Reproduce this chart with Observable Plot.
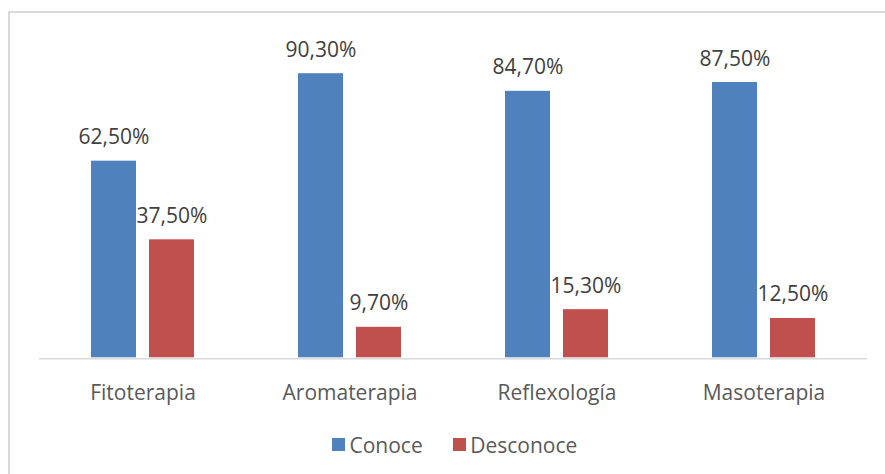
<!DOCTYPE html>
<html>
<head>
<meta charset="utf-8">
<script src="https://cdn.jsdelivr.net/npm/d3@7"></script>
<script src="https://cdn.jsdelivr.net/npm/@observablehq/plot@0.6"></script>
<style>
  html, body { margin: 0; padding: 0; background: #fff; width: 885px; height: 474px; overflow: hidden; }
  #frame { position: absolute; left: 8px; top: 11px; width: 900px; height: 500px;
           border-left: 2px solid #d9d9d9; border-top: 2px solid #d9d9d9; box-sizing: border-box; }
  #chart { position: absolute; left: 0; top: 0; }
  #legend { position: absolute; left: 332px; top: 428px; }
  #legend .lg-swatch { margin-right: 30px; }
  #legend .lg-swatch > svg { margin-right: 4.5px; }
  #legend .lg-swatches { margin: 0; }
</style>
</head>
<body>
<div id="frame"></div>
<div id="chart"></div>
<div id="legend"></div>
<script>
const categories = ["Fitoterapia", "Aromaterapia", "Reflexología", "Masoterapia"];
const series = ["Conoce", "Desconoce"];
const conoce = [62.5, 90.3, 84.7, 87.5];
const desconoce = [37.5, 9.7, 15.3, 12.5];
const colors = ["#4F81BD", "#C0504D"];

const data = [];
categories.forEach((c, i) => {
  data.push({cat: c, serie: series[0], value: conoce[i]});
  data.push({cat: c, serie: series[1], value: desconoce[i]});
});
const fmt = v => v.toFixed(2).replace(".", ",") + "%";

const chart = Plot.plot({
  width: 885,
  height: 410,
  marginLeft: 38,
  marginRight: 17,
  marginTop: 42.7,
  marginBottom: 52.7,
  style: {fontFamily: "'Open Sans', sans-serif", fontSize: "21px", background: "transparent"},
  fx: {domain: categories, padding: 0, label: null},
  x: {domain: series, paddingInner: 0.22, paddingOuter: 0.868, axis: null},
  y: {domain: [0, 100], axis: null},
  color: {domain: series, range: colors},
  marks: [
    Plot.barY(data, {fx: "cat", x: "serie", y: "value", fill: "serie"}),
    Plot.ruleY([0], {stroke: "#d9d9d9", strokeWidth: 1.5, dy: 1}),
    Plot.text(data, {fx: "cat", x: "serie", y: "value", text: d => fmt(d.value),
      lineAnchor: "bottom", dy: -17, fill: "#404040", fontSize: 21}),
    Plot.axisFx({anchor: "bottom", tickSize: 0, tickPadding: 27, fontSize: 21,
      fill: "#595959", label: null})
  ]
});
document.getElementById("chart").appendChild(chart);

const legend = Plot.legend({
  color: {domain: series, range: colors},
  legend: "swatches",
  swatchSize: 13,
  className: "lg",
  style: {fontFamily: "'Open Sans', sans-serif", fontSize: "21px", color: "#595959"}
});
document.getElementById("legend").appendChild(legend);
</script>
</body>
</html>
